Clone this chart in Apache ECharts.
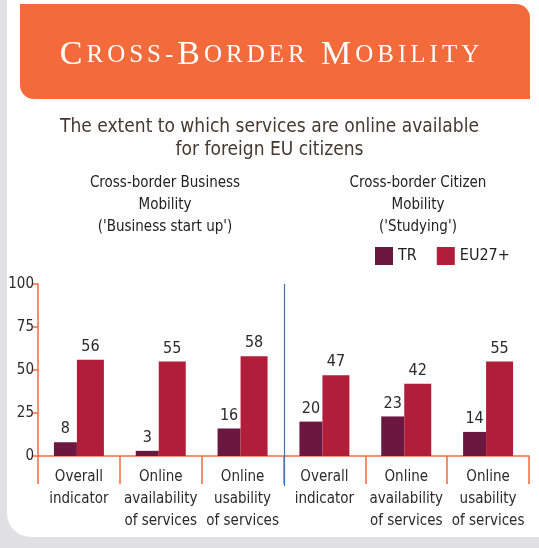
<!DOCTYPE html>
<html lang="en">
<head>
    <meta charset="utf-8">
    <title>Cross-Border Mobility</title>
    <style>
        html, body { margin: 0; padding: 0; background: #fff; }
    </style>
</head>
<body>
    <div id="main" style="width:539px;height:548px;"></div>
    <script src="https://cdn.jsdelivr.net/npm/echarts@6/dist/echarts.min.js"></script>
    <script type="text/javascript">
        // chart data
        var categories = [
            'Overall\nindicator', 'Online\navailability\nof services', 'Online\nusability\nof services',
            'Overall\nindicator', 'Online\navailability\nof services', 'Online\nusability\nof services'
        ];
        var trValues = [8, 3, 16, 20, 23, 14];
        var euValues = [56, 55, 58, 47, 42, 55];
        var seriesNames = ['TR', 'EU27+'];
        var yTicks = [0, 25, 50, 75, 100];

        var font = '"Liberation Sans Narrow", "DejaVu Sans Condensed", "Roboto", sans-serif';
        var serif = '"Liberation Serif", "DejaVu Serif", serif';
        var orange = '#f26b3b';
        var trColor = '#6b1740';
        var euColor = '#b01e3a';

        // small caps header, one rich token per letter so it can be spaced out
        var headerText = 'Cross-Border Mobility';
        var headerRich = '';
        for (var i = 0; i < headerText.length; i++) {
            var ch = headerText[i];
            if (ch === ' ') { headerRich += '{sp| }'; continue; }
            var big = (ch === ch.toUpperCase() && ch !== '-');
            headerRich += '{' + (big ? 'b' : 's') + '|' + ch.toUpperCase() + '}';
        }

        var myChart = echarts.init(document.getElementById('main'));

        var option = {
            animation: false,
            textStyle: { fontFamily: font },
            title: [{
                text: 'The extent to which services are online available\nfor foreign EU citizens',
                left: 'center',
                top: 111,
                textStyle: { color: '#45392f', fontSize: 19, fontWeight: 'normal', lineHeight: 23, fontFamily: font }
            }, {
                text: 'Cross-border Business\nMobility\n(\'Business start up\')',
                left: 160,
                top: 167,
                textAlign: 'center',
                textStyle: { color: '#222', fontSize: 15, fontWeight: 'normal', lineHeight: 22, fontFamily: font }
            }, {
                text: 'Cross-border Citizen\nMobility\n(\'Studying\')',
                left: 413,
                top: 167,
                textAlign: 'center',
                textStyle: { color: '#222', fontSize: 15, fontWeight: 'normal', lineHeight: 22, fontFamily: font }
            }],
            legend: {
                data: seriesNames,
                left: 370,
                top: 242,
                itemWidth: 18,
                itemHeight: 18,
                itemGap: 20,
                icon: 'rect',
                textStyle: { color: '#222', fontSize: 16, fontFamily: font }
            },
            grid: { left: 38, right: 10, top: 284, bottom: 92 },
            xAxis: {
                type: 'category',
                data: categories,
                axisLine: { lineStyle: { color: orange, width: 1.5 } },
                axisTick: { show: true, length: 28, lineStyle: { color: orange, width: 1.5 } },
                axisLabel: {
                    interval: 0, color: '#2a2a2a', fontSize: 15, lineHeight: 22,
                    margin: 10, fontFamily: font
                }
            },
            yAxis: {
                type: 'value',
                min: 0,
                max: 100,
                interval: 25,
                splitLine: { show: false },
                axisLine: { show: true, lineStyle: { color: orange, width: 1.5 } },
                axisTick: { show: true, length: 5, lineStyle: { color: orange, width: 1.5 } },
                axisLabel: {
                    color: '#2a2a2a', fontSize: 15, margin: 4, fontFamily: font,
                    formatter: function (v) { return yTicks.indexOf(v) >= 0 ? String(v) : ''; }
                }
            },
            series: [{
                name: seriesNames[0],
                type: 'bar',
                data: trValues,
                barWidth: 23,
                barGap: '0%',
                itemStyle: { color: trColor },
                label: { show: true, position: 'top', distance: 5, color: '#2a2a2a', fontSize: 16, fontFamily: font }
            }, {
                name: seriesNames[1],
                type: 'bar',
                data: euValues,
                barWidth: 27,
                itemStyle: { color: euColor },
                label: { show: true, position: 'top', distance: 5, color: '#2a2a2a', fontSize: 16, fontFamily: font }
            }],
            graphic: [{
                type: 'rect', z: -10, silent: true,
                shape: { x: 0, y: 0, width: 539, height: 548 },
                style: { fill: '#e1e1e3' }
            }, {
                type: 'rect', z: -9, silent: true,
                shape: { x: 7, y: 0, width: 560, height: 537, r: [0, 0, 0, 24] },
                style: { fill: '#ffffff' }
            }, {
                type: 'rect', z: -8, silent: true,
                shape: { x: 20, y: 4, width: 510, height: 95, r: [0, 14, 0, 14] },
                style: { fill: '#f36a3b' }
            }, {
                type: 'text', z: 5, silent: true,
                left: 'center', top: 38,
                style: {
                    text: headerRich,
                    rich: {
                        b: { fontSize: 34, fontFamily: serif, fill: '#fff', padding: [0, 2] },
                        s: { fontSize: 25, fontFamily: serif, fill: '#fff', padding: [0, 2] },
                        sp: { fontSize: 25, fontFamily: serif, fill: '#fff', padding: [0, 3] }
                    }
                }
            }]
        };
        myChart.setOption(option);

        // separator between the two groups, placed on the category boundary
        var p2 = myChart.convertToPixel({ xAxisIndex: 0 }, 2);
        var p3 = myChart.convertToPixel({ xAxisIndex: 0 }, 3);
        var pTop = myChart.convertToPixel({ yAxisIndex: 0 }, 100);
        var pBottom = myChart.convertToPixel({ yAxisIndex: 0 }, 0);
        var sepX = Math.round((p2 + p3) / 2) + 0.5;
        option.graphic.push({
            type: 'line', z: 10, silent: true,
            shape: { x1: sepX, y1: pTop, x2: sepX, y2: pBottom + 30 },
            style: { stroke: '#4a6fae', lineWidth: 1.2 }
        });
        myChart.setOption({ graphic: option.graphic });
    </script>
</body>
</html>
